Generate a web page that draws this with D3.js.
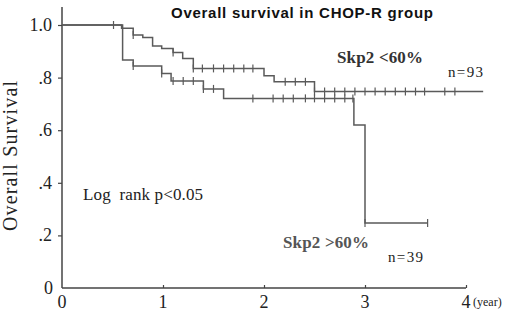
<!DOCTYPE html>
<html><head><meta charset="utf-8">
<script src="https://cdn.jsdelivr.net/npm/d3@7"></script>
<style>body{margin:0;background:#fff}svg{display:block}</style>
</head><body><svg id="c" width="520" height="319"></svg>
<script>
// Skp2 <60% (n=93): step times and survival after each event
const lowTimes = [0, 0.59, 0.705, 0.80, 0.897, 0.987, 1.10, 1.195, 1.30, 2.00, 2.10, 2.50, 4.17];
const lowSurv  = [1.0, 0.988, 0.962, 0.952, 0.920, 0.911, 0.895, 0.873, 0.835, 0.807, 0.784, 0.747, 0.747];
const lowCensor = [0.51, 0.705, 1.10, 1.30, 1.39, 1.50, 1.60, 1.70, 1.80, 1.89, 2.21, 2.31, 2.41,
  2.50, 2.60, 2.70, 2.80, 2.90, 3.00, 3.10, 3.20, 3.30, 3.40, 3.50, 3.59, 3.79, 3.89];
// Skp2 >60% (n=39)
const highTimes = [0, 0.60, 0.705, 0.987, 1.08, 1.40, 1.60, 2.89, 3.00, 3.62];
const highSurv  = [1.0, 0.867, 0.844, 0.816, 0.787, 0.757, 0.721, 0.620, 0.247, 0.247];
const highCensor = [0.705, 0.987, 1.10, 1.20, 1.30, 1.40, 1.50, 1.89, 2.09, 2.19, 2.29, 2.41,
  2.50, 2.60, 2.70, 2.80, 2.88, 3.00, 3.62];
const xTicks = [0, 1, 2, 3, 4];
const yTicks = [0, 0.2, 0.4, 0.6, 0.8, 1.0];
const yTickLabels = ["0", ".2", ".4", ".6", ".8", "1.0"];

const svg = d3.select("#c");
const x = d3.scaleLinear().domain([0, 4]).range([62, 466]);
const y = d3.scaleLinear().domain([0, 281 / 263]).range([288, 7]);
const lineCol = "#5a5a5a";
const serif = "'Liberation Serif','DejaVu Serif',serif";

// axes
const yAxis = svg.append("g").attr("transform", "translate(62,0)")
  .call(d3.axisLeft(y).tickValues(yTicks.slice(1)).tickSize(4).tickFormat(""));
yAxis.select(".domain").attr("d", `M0,${y.range()[1]}V${y(0)}`);
const xAxis = svg.append("g").attr("transform", `translate(0,${y(0)})`)
  .call(d3.axisTop(x).tickValues(xTicks.slice(1)).tickSize(3).tickFormat(""));
xAxis.select(".domain").attr("d", `M${x(0)},0H${x(4)}`);
svg.selectAll(".domain").attr("stroke", "#444").attr("stroke-width", 1.5);
svg.selectAll(".tick line").attr("stroke", "#444").attr("stroke-width", 1.2);

// tick labels
svg.append("g").selectAll("text").data(yTicks).join("text")
  .attr("x", (d) => d === 0 ? 53 : 52).attr("y", d => y(d) + 6)
  .attr("text-anchor", "end").attr("font-family", serif).attr("font-size", 18)
  .attr("fill", "#222").text((d, i) => yTickLabels[i]);
svg.append("g").selectAll("text").data(xTicks).join("text")
  .attr("x", d => x(d)).attr("y", 308).attr("text-anchor", "middle")
  .attr("font-family", serif).attr("font-size", 18).attr("fill", "#222").text(d => d);
svg.append("text").attr("x", 473).attr("y", 306).attr("font-family", serif)
  .attr("font-size", 12).attr("fill", "#222").text("(year)");

// curves
function drawCurve(times, surv, censor) {
  const pts = times.map((t, i) => [t, surv[i]]);
  const line = d3.line().x(d => x(d[0])).y(d => y(d[1])).curve(d3.curveStepAfter);
  svg.append("path").attr("d", line(pts)).attr("fill", "none")
    .attr("stroke", lineCol).attr("stroke-width", 1.5);
  const bis = d3.bisector(d => d).right;
  svg.append("g").selectAll("line").data(censor).join("line")
    .attr("x1", d => x(d)).attr("x2", d => x(d))
    .attr("y1", d => y(surv[bis(times, d) - 1]) - 4)
    .attr("y2", d => y(surv[bis(times, d) - 1]) + 4)
    .attr("stroke", lineCol).attr("stroke-width", 1.2);
}
drawCurve(lowTimes, lowSurv, lowCensor);
drawCurve(highTimes, highSurv, highCensor);

// texts
svg.append("text").attr("x", 171).attr("y", 18)
  .attr("font-family", "'Liberation Sans',Arial,sans-serif").attr("font-weight", "bold")
  .attr("font-size", 15).attr("textLength", 262).attr("fill", "#111")
  .text("Overall survival in CHOP-R group");
svg.append("text").attr("transform", "translate(17,156) rotate(-90)")
  .attr("text-anchor", "middle").attr("font-family", serif).attr("font-size", 20)
  .attr("textLength", 150).attr("fill", "#222").text("Overall Survival");
svg.append("text").attr("x", 337).attr("y", 63).attr("font-family", serif)
  .attr("font-weight", "bold").attr("font-size", 17).attr("textLength", 86)
  .attr("fill", "#333").text("Skp2 <60%");
svg.append("text").attr("x", 448).attr("y", 77).attr("font-family", serif)
  .attr("font-size", 15).attr("textLength", 35).attr("fill", "#222").text("n=93");
svg.append("text").attr("x", 83).attr("y", 200).attr("font-family", serif)
  .attr("font-size", 17).attr("textLength", 120).attr("fill", "#222")
  .attr("xml:space", "preserve").text("Log  rank p<0.05");
svg.append("text").attr("x", 283).attr("y", 248).attr("font-family", serif)
  .attr("font-weight", "bold").attr("font-size", 17).attr("textLength", 86)
  .attr("fill", "#555").text("Skp2 >60%");
svg.append("text").attr("x", 388).attr("y", 262).attr("font-family", serif)
  .attr("font-size", 15).attr("textLength", 35).attr("fill", "#222").text("n=39");
</script></body></html>
